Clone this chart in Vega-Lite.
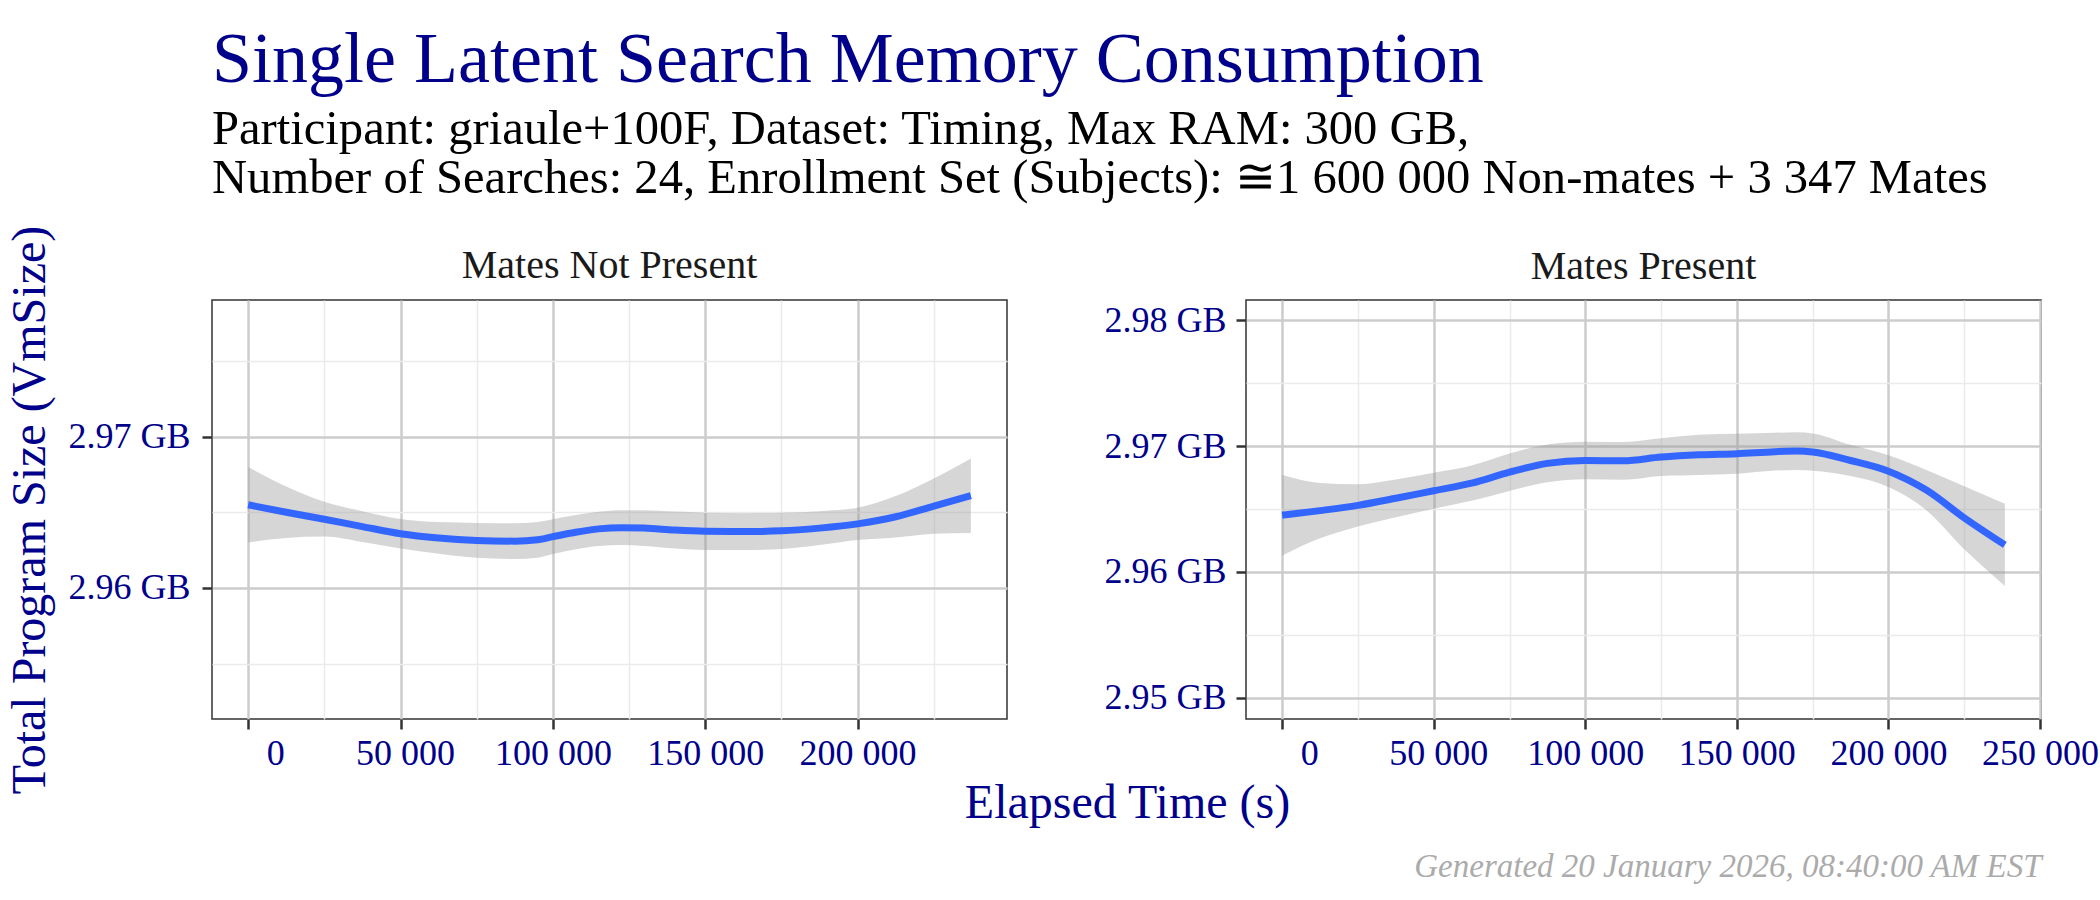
{
  "$schema": "https://vega.github.io/schema/vega-lite/v6.json",
  "background": "white",
  "padding": {"left": 5, "top": 23, "right": 10, "bottom": 5},
  "title": {
    "text": "Single Latent Search Memory Consumption",
    "subtitle": [
      "Participant: griaule+100F, Dataset: Timing, Max RAM: 300 GB,",
      "Number of Searches: 24, Enrollment Set (Subjects): ≅1 600 000 Non-mates + 3 347 Mates"
    ],
    "anchor": "start",
    "frame": "group",
    "font": "Liberation Serif",
    "fontSize": 72,
    "fontWeight": "normal",
    "color": "#00008B",
    "subtitleFont": "Liberation Serif",
    "subtitleFontSize": 48.6,
    "subtitleColor": "#000000",
    "subtitleLineHeight": 49,
    "subtitlePadding": 9,
    "offset": 21
  },
  "datasets": {
    "notPresent": [
      {"t": 0, "fit": 2.96549, "lo": 2.96300, "hi": 2.96798},
      {"t": 12500, "fit": 2.96500, "lo": 2.96330, "hi": 2.96670},
      {"t": 25000, "fit": 2.96454, "lo": 2.96339, "hi": 2.96569},
      {"t": 37500, "fit": 2.96405, "lo": 2.96303, "hi": 2.96507},
      {"t": 50000, "fit": 2.96358, "lo": 2.96260, "hi": 2.96456},
      {"t": 62500, "fit": 2.96330, "lo": 2.96225, "hi": 2.96435},
      {"t": 75000, "fit": 2.96314, "lo": 2.96199, "hi": 2.96429},
      {"t": 87500, "fit": 2.96309, "lo": 2.96191, "hi": 2.96427},
      {"t": 95000, "fit": 2.96318, "lo": 2.96200, "hi": 2.96436},
      {"t": 100000, "fit": 2.96339, "lo": 2.96224, "hi": 2.96454},
      {"t": 107500, "fit": 2.96368, "lo": 2.96255, "hi": 2.96481},
      {"t": 115000, "fit": 2.96390, "lo": 2.96277, "hi": 2.96503},
      {"t": 122500, "fit": 2.96398, "lo": 2.96283, "hi": 2.96513},
      {"t": 130000, "fit": 2.96395, "lo": 2.96277, "hi": 2.96513},
      {"t": 140000, "fit": 2.96382, "lo": 2.96260, "hi": 2.96504},
      {"t": 150000, "fit": 2.96374, "lo": 2.96251, "hi": 2.96497},
      {"t": 162500, "fit": 2.96372, "lo": 2.96250, "hi": 2.96494},
      {"t": 175000, "fit": 2.96377, "lo": 2.96257, "hi": 2.96497},
      {"t": 187500, "fit": 2.96395, "lo": 2.96283, "hi": 2.96507},
      {"t": 200000, "fit": 2.96423, "lo": 2.96316, "hi": 2.96530},
      {"t": 212500, "fit": 2.96470, "lo": 2.96333, "hi": 2.96607},
      {"t": 225000, "fit": 2.96540, "lo": 2.96357, "hi": 2.96723},
      {"t": 237160, "fit": 2.96609, "lo": 2.96363, "hi": 2.96855}
    ],
    "present": [
      {"t": 0, "fit": 2.96450, "lo": 2.96130, "hi": 2.96770},
      {"t": 12500, "fit": 2.96487, "lo": 2.96267, "hi": 2.96707},
      {"t": 25000, "fit": 2.96529, "lo": 2.96361, "hi": 2.96697},
      {"t": 37500, "fit": 2.96585, "lo": 2.96435, "hi": 2.96735},
      {"t": 50000, "fit": 2.96645, "lo": 2.96502, "hi": 2.96788},
      {"t": 62500, "fit": 2.96705, "lo": 2.96565, "hi": 2.96845},
      {"t": 75000, "fit": 2.96792, "lo": 2.96643, "hi": 2.96941},
      {"t": 87500, "fit": 2.96862, "lo": 2.96712, "hi": 2.97012},
      {"t": 100000, "fit": 2.96885, "lo": 2.96736, "hi": 2.97034},
      {"t": 112500, "fit": 2.96882, "lo": 2.96732, "hi": 2.97032},
      {"t": 125000, "fit": 2.96912, "lo": 2.96762, "hi": 2.97062},
      {"t": 137500, "fit": 2.96930, "lo": 2.96770, "hi": 2.97090},
      {"t": 150000, "fit": 2.96939, "lo": 2.96780, "hi": 2.97098},
      {"t": 162500, "fit": 2.96955, "lo": 2.96805, "hi": 2.97105},
      {"t": 170000, "fit": 2.96960, "lo": 2.96810, "hi": 2.97110},
      {"t": 175000, "fit": 2.96952, "lo": 2.96804, "hi": 2.97100},
      {"t": 187500, "fit": 2.96885, "lo": 2.96761, "hi": 2.97009},
      {"t": 200000, "fit": 2.96800, "lo": 2.96674, "hi": 2.96926},
      {"t": 212500, "fit": 2.96650, "lo": 2.96490, "hi": 2.96810},
      {"t": 225000, "fit": 2.96430, "lo": 2.96180, "hi": 2.96680},
      {"t": 238400, "fit": 2.96215, "lo": 2.95889, "hi": 2.96541}
    ]
  },
  "bounds": "flush",
  "spacing": 239,
  "hconcat": [
    {
      "width": 795,
      "height": 419,
      "title": {"text": "Mates Not Present", "offset": -61},
      "data": {"name": "notPresent"},
      "encoding": {
        "x": {
          "field": "t",
          "type": "quantitative",
          "scale": {"domain": [-11858, 249018], "nice": false, "zero": false},
          "axis": {
            "values": [0, 25000, 50000, 75000, 100000, 125000, 150000, 175000, 200000, 225000],
            "labelExpr": "datum.value % 50000 === 0 ? replace(format(datum.value, ','), regexp(',', 'g'), '\u00a0') : ''",
            "labelOffset": {"condition": [{"test": "datum.value === 0", "value": 27}, {"test": "datum.value === 50000", "value": 4.5}], "value": 0},
            "tickOpacity": {"condition": {"test": "datum.value % 50000 === 0", "value": 1}, "value": 0},
            "gridColor": {"condition": {"test": "datum.value % 50000 === 0", "value": "#cccccc"}, "value": "#ebebeb"},
            "gridWidth": {"condition": {"test": "datum.value % 50000 === 0", "value": 2.5}, "value": 1.5},
            "title": "Elapsed Time (s)",
            "titleX": 915,
            "titleY": 98,
            "titleAlign": "center",
            "titleBaseline": "alphabetic",
            "titleFontSize": 48,
            "titleColor": "#00008B"
          }
        }
      },
      "layer": [
        {
          "mark": {"type": "area", "color": "#999999", "opacity": 0.4, "interpolate": "monotone"},
          "encoding": {
            "y": {
              "field": "lo",
              "type": "quantitative",
              "scale": {"domain": [2.95134, 2.97902], "nice": false, "zero": false},
              "axis": {
                "values": [2.955, 2.96, 2.965, 2.97, 2.975],
                "labelExpr": "round(datum.value * 1000) % 10 === 0 ? format(datum.value, '.2f') + ' GB' : ''",
                "tickOpacity": {"condition": {"test": "round(datum.value * 1000) % 10 === 0", "value": 1}, "value": 0},
                "gridColor": {"condition": {"test": "round(datum.value * 1000) % 10 === 0", "value": "#cccccc"}, "value": "#ebebeb"},
                "gridWidth": {"condition": {"test": "round(datum.value * 1000) % 10 === 0", "value": 2.5}, "value": 1.5},
                "labelPadding": 12,
                "title": "Total Program Size (VmSize)",
                "titleAngle": 270,
                "titleX": -168,
                "titleY": 209.5,
                "titleAlign": "center",
                "titleBaseline": "alphabetic",
                "titleFontSize": 48,
                "titleColor": "#00008B"
              }
            },
            "y2": {"field": "hi"}
          }
        },
        {
          "mark": {"type": "line", "color": "#3366FF", "strokeWidth": 7, "interpolate": "monotone"},
          "encoding": {
            "y": {
              "field": "fit",
              "type": "quantitative",
              "scale": {"domain": [2.95134, 2.97902], "nice": false, "zero": false}
            }
          }
        }
      ]
    },
    {
      "width": 795,
      "height": 419,
      "title": {"text": "Mates Present", "offset": 13},
      "data": {"name": "present"},
      "encoding": {
        "x": {
          "field": "t",
          "type": "quantitative",
          "scale": {"domain": [-11920, 250320], "nice": false, "zero": false},
          "axis": {
            "values": [0, 25000, 50000, 75000, 100000, 125000, 150000, 175000, 200000, 225000, 250000],
            "labelExpr": "datum.value % 50000 === 0 ? replace(format(datum.value, ','), regexp(',', 'g'), '\u00a0') : ''",
            "labelOffset": {"condition": [{"test": "datum.value === 0", "value": 27}, {"test": "datum.value === 50000", "value": 4.5}], "value": 0},
            "tickOpacity": {"condition": {"test": "datum.value % 50000 === 0", "value": 1}, "value": 0},
            "gridColor": {"condition": {"test": "datum.value % 50000 === 0", "value": "#cccccc"}, "value": "#ebebeb"},
            "gridWidth": {"condition": {"test": "datum.value % 50000 === 0", "value": 2.5}, "value": 1.5},
            "title": "Generated 20 January 2026, 08:40:00 AM EST",
            "titleX": 795,
            "titleY": 157,
            "titleAlign": "right",
            "titleBaseline": "alphabetic",
            "titleFontSize": 33,
            "titleFontStyle": "italic",
            "titleColor": "#ababab"
          }
        }
      },
      "layer": [
        {
          "mark": {"type": "area", "color": "#999999", "opacity": 0.4, "interpolate": "monotone"},
          "encoding": {
            "y": {
              "field": "lo",
              "type": "quantitative",
              "scale": {"domain": [2.94833, 2.98159], "nice": false, "zero": false},
              "axis": {
                "values": [2.95, 2.955, 2.96, 2.965, 2.97, 2.975, 2.98],
                "labelExpr": "round(datum.value * 1000) % 10 === 0 ? format(datum.value, '.2f') + ' GB' : ''",
                "tickOpacity": {"condition": {"test": "round(datum.value * 1000) % 10 === 0", "value": 1}, "value": 0},
                "gridColor": {"condition": {"test": "round(datum.value * 1000) % 10 === 0", "value": "#cccccc"}, "value": "#ebebeb"},
                "gridWidth": {"condition": {"test": "round(datum.value * 1000) % 10 === 0", "value": 2.5}, "value": 1.5},
                "labelPadding": 10,
                "title": null
              }
            },
            "y2": {"field": "hi"}
          }
        },
        {
          "mark": {"type": "line", "color": "#3366FF", "strokeWidth": 7, "interpolate": "monotone"},
          "encoding": {
            "y": {
              "field": "fit",
              "type": "quantitative",
              "scale": {"domain": [2.94833, 2.98159], "nice": false, "zero": false}
            }
          }
        }
      ]
    }
  ],
  "config": {
    "font": "Liberation Serif",
    "view": {"stroke": "#333333", "strokeWidth": 1.5},
    "axis": {
      "domain": false,
      "labelFont": "Liberation Serif",
      "labelFontSize": 36,
      "labelColor": "#00008B",
      "labelFlush": false,
      "labelOverlap": false,
      "labelBound": false,
      "tickColor": "#333333",
      "tickSize": 10,
      "tickWidth": 2.5,
      "titleFont": "Liberation Serif",
      "titleFontWeight": "normal"
    },
    "axisX": {"labelPadding": 7},
    "title": {
      "font": "Liberation Serif",
      "fontSize": 40,
      "fontWeight": "normal",
      "color": "#1A1A1A",
      "anchor": "middle",
      "baseline": "alphabetic",
      "offset": 25
    }
  }
}
